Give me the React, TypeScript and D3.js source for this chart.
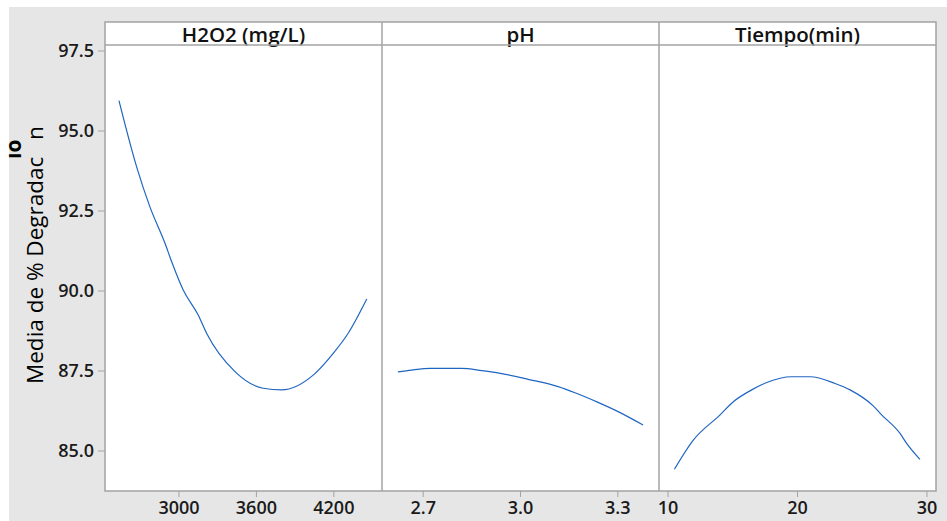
import * as d3 from "d3";

// factor panels
const panelTitles = ["H2O2 (mg/L)", "pH", "Tiempo(min)"];

// H2O2 (mg/L)
const h2o2X = [2535, 2672, 2775, 2892, 2943, 3033, 3149, 3214, 3434, 3653, 3795, 4040, 4195, 4311, 4455];
const h2o2Y = [95.95, 93.88, 92.63, 91.49, 90.92, 90.03, 89.25, 88.68, 87.48, 86.96, 86.91, 87.37, 88.05, 88.68, 89.75];

// pH
const phX = [2.622, 2.665, 2.722, 2.819, 2.881, 2.942, 3.024, 3.116, 3.168, 3.239, 3.301, 3.378];
const phY = [87.47, 87.53, 87.58, 87.58, 87.51, 87.42, 87.24, 87.01, 86.82, 86.52, 86.23, 85.81];

// Tiempo (min)
const tiempoX = [10.49, 11.95, 14.02, 15.04, 16.46, 17.62, 19.55, 20.97, 22.9, 24.06, 25.85, 26.5, 27.92, 28.43, 29.46];
const tiempoY = [84.43, 85.34, 86.13, 86.54, 86.91, 87.14, 87.32, 87.32, 87.11, 86.91, 86.41, 86.13, 85.55, 85.24, 84.74];

const xDomains: [number, number][] = [[2427, 4573], [2.573, 3.427], [9.3, 30.7]];
const xTicks = [[3000, 3600, 4200], [2.7, 3.0, 3.3], [10, 20, 30]];
const xTickFmt = [d3.format("d"), d3.format(".1f"), d3.format("d")];
const yTicks = [85.0, 87.5, 90.0, 92.5, 95.0, 97.5];

const series = [
  { x: h2o2X, y: h2o2Y },
  { x: phX, y: phY },
  { x: tiempoX, y: tiempoY },
];

const W = 947;
const H = 521;
const left = 105;
const right = 936;
const top = 22;
const stripH = 23;
const bottom = 491;
const font = "'Open Sans', sans-serif";
const border = "#a3a3a3";

export default function App() {
  const panelW = (right - left) / 3;
  const y = d3.scaleLinear().domain([83.75, 97.6875]).range([bottom, top + stripH]);
  const line = d3.line<[number, number]>().curve(d3.curveMonotoneX);

  return (
    <svg width={W} height={H} style={{ position: "absolute", left: 0, top: 0 }}>
      <rect x={0} y={0} width={W} height={H} fill="#fff" />
      <rect x={9} y={7} width={W - 9} height={H - 7} fill="#e6e6e6" />
      <rect x={left} y={top} width={right - left} height={bottom - top} fill="#fff" />

      {/* y axis */}
      {yTicks.map((t) => (
        <g key={t}>
          <line x1={98} x2={left} y1={y(t)} y2={y(t)} stroke={border} strokeWidth={1} />
          <text x={94} y={y(t)} dy="0.36em" textAnchor="end" fontFamily={font} fontWeight={600} fontSize={18} fill="#1a1a1a">
            {d3.format(".1f")(t)}
          </text>
        </g>
      ))}
      <text transform="translate(43,384) rotate(-90)" fontFamily={font} fontWeight={500} fontSize={22.5} fill="#000">
        Media de % Degradac
      </text>
      <text transform="translate(43,140) rotate(-90)" fontFamily={font} fontWeight={500} fontSize={22.5} fill="#000">
        n
      </text>
      <text transform="translate(21,159) rotate(-90)" fontFamily={font} fontWeight={700} fontSize={21} fill="#000">
        ıo
      </text>

      {series.map((s, i) => {
        const x0 = left + i * panelW;
        const x = d3.scaleLinear().domain(xDomains[i]).range([x0, x0 + panelW]);
        const pts = s.x.map((v, k) => [x(v), y(s.y[k])] as [number, number]);
        return (
          <g key={i}>
            <text x={x0 + panelW / 2} y={top + stripH / 2 + 1} dy="0.36em" textAnchor="middle" fontFamily={font} fontWeight={600} fontSize={20.5} fill="#111">
              {panelTitles[i]}
            </text>
            {xTicks[i].map((t) => (
              <g key={t}>
                <line x1={x(t)} x2={x(t)} y1={bottom} y2={bottom + 6} stroke={border} strokeWidth={1} />
                <text x={x(t)} y={508} dy="0.36em" textAnchor="middle" fontFamily={font} fontWeight={600} fontSize={18} fill="#1a1a1a">
                  {xTickFmt[i](t)}
                </text>
              </g>
            ))}
            <path d={line(pts) ?? ""} fill="none" stroke="#1f66c1" strokeWidth={1.2} />
            {i > 0 && <line x1={x0} x2={x0} y1={top} y2={bottom} stroke={border} strokeWidth={1.5} />}
          </g>
        );
      })}

      <line x1={left} x2={right} y1={top + stripH} y2={top + stripH} stroke={border} strokeWidth={1.5} />
      <rect x={left} y={top} width={right - left} height={bottom - top} fill="none" stroke={border} strokeWidth={1.5} />
    </svg>
  );
}
